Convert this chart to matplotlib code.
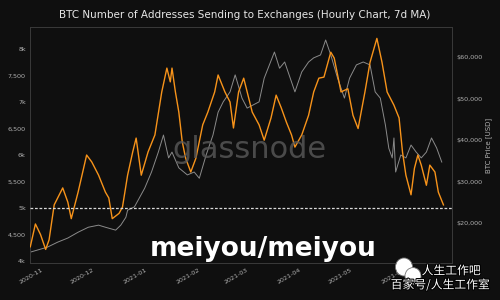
import matplotlib
matplotlib.use('Agg')
import matplotlib.pyplot as plt
import matplotlib.dates as mdates
import matplotlib.patheffects as pe
from matplotlib.patches import Ellipse
from matplotlib.ticker import FuncFormatter
import pandas as pd

# addresses sending to exchanges (7d MA)
addr_dates = ['2020-10-24', '2020-10-27', '2020-10-30', '2020-11-02', '2020-11-04', '2020-11-07',
              '2020-11-12', '2020-11-15', '2020-11-17', '2020-11-21', '2020-11-26', '2020-11-29',
              '2020-12-03', '2020-12-07', '2020-12-09', '2020-12-11', '2020-12-15', '2020-12-17',
              '2020-12-20', '2020-12-23', '2020-12-25', '2020-12-28', '2021-01-01', '2021-01-05',
              '2021-01-09', '2021-01-12', '2021-01-14', '2021-01-15', '2021-01-17', '2021-01-19',
              '2021-01-21', '2021-01-23', '2021-01-26', '2021-01-29', '2021-02-02', '2021-02-05',
              '2021-02-09', '2021-02-11', '2021-02-15', '2021-02-18', '2021-02-20', '2021-02-23',
              '2021-02-26', '2021-03-03', '2021-03-07', '2021-03-10', '2021-03-14', '2021-03-17',
              '2021-03-20', '2021-03-23', '2021-03-26', '2021-03-28', '2021-04-01', '2021-04-05',
              '2021-04-08', '2021-04-11', '2021-04-14', '2021-04-18', '2021-04-20', '2021-04-24',
              '2021-04-28', '2021-05-01', '2021-05-04', '2021-05-08', '2021-05-11', '2021-05-15',
              '2021-05-18', '2021-05-21', '2021-05-25', '2021-05-28', '2021-05-30', '2021-06-01',
              '2021-06-04', '2021-06-06', '2021-06-08', '2021-06-10', '2021-06-13', '2021-06-15',
              '2021-06-18', '2021-06-20', '2021-06-23']
addr_values = [4270, 4700, 4500, 4220, 4400, 5060,
               5380, 5110, 4800, 5300, 6000, 5870,
               5620, 5300, 5190, 4800, 4900, 5020,
               5620, 6060, 6320, 5620, 6060, 6380,
               7190, 7640, 7380, 7640, 7190, 6810,
               6250, 5940, 5680, 5940, 6570, 6810,
               7190, 7510, 7190, 7000, 6510, 7190,
               7450, 6810, 6570, 6280, 6700, 7130,
               6890, 6620, 6380, 6150, 6380, 6750,
               7190, 7450, 7470, 7940, 7830, 7190,
               7250, 6750, 6500, 7190, 7750, 8200,
               7750, 7190, 6940, 6700, 6060, 5620,
               5250, 5750, 6000, 5810, 5430, 5810,
               5680, 5300, 5060]

# BTC price
price_dates = ['2020-10-24', '2020-11-03', '2020-11-09', '2020-11-15', '2020-11-21', '2020-11-27',
               '2020-12-03', '2020-12-07', '2020-12-13', '2020-12-16', '2020-12-19', '2020-12-20',
               '2020-12-24', '2020-12-30', '2021-01-03', '2021-01-07', '2021-01-10', '2021-01-13',
               '2021-01-15', '2021-01-19', '2021-01-24', '2021-01-28', '2021-01-31', '2021-02-04',
               '2021-02-08', '2021-02-11', '2021-02-14', '2021-02-18', '2021-02-21', '2021-02-25',
               '2021-02-28', '2021-03-07', '2021-03-10', '2021-03-16', '2021-03-19', '2021-03-22',
               '2021-03-26', '2021-03-28', '2021-04-01', '2021-04-05', '2021-04-08', '2021-04-12',
               '2021-04-15', '2021-04-18', '2021-04-22', '2021-04-26', '2021-04-29', '2021-05-03',
               '2021-05-07', '2021-05-11', '2021-05-14', '2021-05-17', '2021-05-20', '2021-05-22',
               '2021-05-24', '2021-05-25', '2021-05-26', '2021-05-29', '2021-06-01', '2021-06-04',
               '2021-06-07', '2021-06-10', '2021-06-13', '2021-06-16', '2021-06-19', '2021-06-22']
price_values = [13000, 14200, 15400, 16400, 17800, 19000,
                19500, 19000, 18300, 19500, 21400, 23100,
                23900, 28400, 32300, 37100, 41200, 35700,
                37100, 33300, 31600, 32300, 30800, 36400,
                41200, 46700, 49200, 51600, 55700, 50100,
                47700, 49200, 54900, 61200, 57300, 58800,
                54000, 51600, 56400, 58800, 59800, 60500,
                64100, 60500, 54900, 50100, 54900, 58100,
                58800, 58100, 51600, 50100, 43600, 38000,
                35700, 40500, 32300, 36400, 35700, 38800,
                37100, 35700, 37100, 40500, 38100, 34700]

threshold = 5000

bg = '#0f0f0f'
tick_col = '#b0b0b0'

fig = plt.figure(figsize=(5, 3), dpi=100, facecolor=bg)
ax = fig.add_axes([0.06, 0.123, 0.844, 0.787], facecolor=bg)
ax2 = ax.twinx()

ad = pd.to_datetime(addr_dates)
pdt = pd.to_datetime(price_dates)

ax2.plot(pdt, price_values, color='#a0a0a0', lw=0.7, alpha=0.85, zorder=1)
ax.plot(ad, addr_values, color='#f7931a', lw=1.0, zorder=3)
ax.axhline(threshold, color='#d8d8d8', lw=0.9, ls=(0, (2.2, 1.4)), zorder=4)

# orange series drawn above the price line
ax.set_zorder(ax2.get_zorder() + 1)
ax.patch.set_visible(False)
ax2.patch.set_facecolor(bg)

ax.set_xlim(pd.Timestamp('2020-10-23 20:00'), pd.Timestamp('2021-06-28'))
ax.set_ylim(3962, 8415)
ax2.set_ylim(10360, 67230)

ax.set_yticks([4000, 4500, 5000, 5500, 6000, 6500, 7000, 7500, 8000])
ax.yaxis.set_major_formatter(FuncFormatter(
    lambda v, p: f'{int(v/1000)}k' if v % 1000 == 0 else f'{int(v):,}'))
ax2.set_yticks([20000, 30000, 40000, 50000, 60000])
ax2.yaxis.set_major_formatter(FuncFormatter(lambda v, p: f'${int(v):,}'))

ax.xaxis.set_major_locator(mdates.MonthLocator())
ax.xaxis.set_major_formatter(mdates.DateFormatter('%Y-%m'))
for lbl in ax.get_xticklabels():
    lbl.set_rotation(30)
    lbl.set_ha('right')

for a in (ax, ax2):
    a.tick_params(colors=tick_col, labelsize=4.6, length=0, pad=3)
    for s in a.spines.values():
        s.set_color('#3a3a3a')
        s.set_linewidth(0.6)

ax2.set_ylabel('BTC Price [USD]', color=tick_col, fontsize=5, labelpad=2)

fig.text(0.49, 0.95, 'BTC Number of Addresses Sending to Exchanges (Hourly Chart, 7d MA)',
         ha='center', va='center', color='#e6e6e6', fontsize=7.5)

# watermarks
fig.text(0.498, 0.5, 'glassnode', ha='center', va='center', color='#5a5a5a',
         fontsize=22, alpha=0.8, zorder=5)
fig.text(0.526, 0.17, 'meiyou/meiyou', ha='center', va='center', color='white',
         fontsize=19, fontweight='bold', zorder=6)

cjk = ['Noto Sans CJK SC', 'DejaVu Sans']
stroke = [pe.withStroke(linewidth=1.5, foreground='black')]
fig.text(0.902, 0.097, '人生工作吧', ha='center', va='center', color='white',
         fontsize=8.5, family=cjk, path_effects=stroke, zorder=7)
fig.text(0.88, 0.05, '百家号/人生工作室', ha='center', va='center', color='white',
         fontsize=8.5, family=cjk, path_effects=stroke, zorder=7)
fig.patches.append(Ellipse((0.808, 0.11), 0.034, 0.06, transform=fig.transFigure,
                           facecolor='white', edgecolor='#777777', lw=0.6, zorder=7))
fig.patches.append(Ellipse((0.826, 0.08), 0.032, 0.056, transform=fig.transFigure,
                           facecolor='white', edgecolor='#777777', lw=0.6, zorder=7))

fig.savefig('out.png', dpi=100, facecolor=bg)
